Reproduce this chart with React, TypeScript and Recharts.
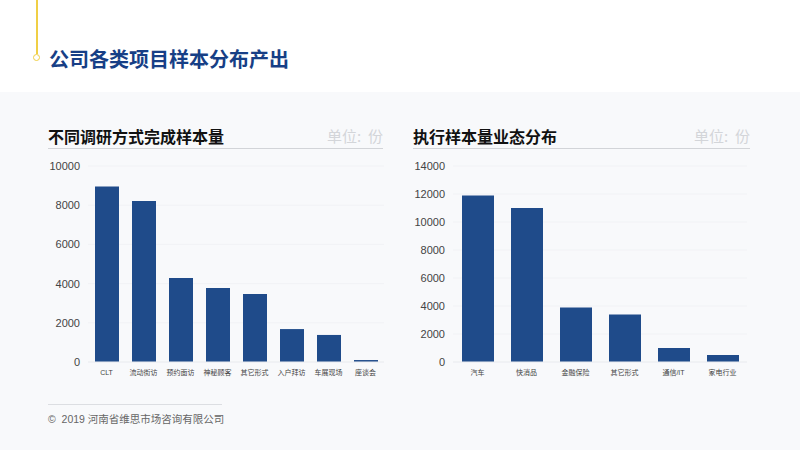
import { BarChart, Bar, XAxis, YAxis, CartesianGrid } from "recharts";

const methodNames = ["CLT", "流动街访", "预约面访", "神秘顾客", "其它形式", "入户拜访", "车展现场", "座谈会"];
const methodCounts = [8950, 8220, 4280, 3780, 3470, 1680, 1380, 100];
const methodTicks = [0, 2000, 4000, 6000, 8000, 10000];

const sectorNames = ["汽车", "快消品", "金融保险", "其它形式", "通信/IT", "家电行业"];
const sectorCounts = [11900, 11000, 3900, 3400, 1000, 500];
const sectorTicks = [0, 2000, 4000, 6000, 8000, 10000, 12000, 14000];

const methodData = methodNames.map((name, i) => ({ name, value: methodCounts[i] }));
const sectorData = sectorNames.map((name, i) => ({ name, value: sectorCounts[i] }));

const FONT = "'Noto Sans CJK SC', 'Noto Sans', sans-serif";
const NUM_FONT = "'Liberation Sans', 'Noto Sans CJK SC', sans-serif";
const BAR = "#1f4b8a";

function PanelHeader({ left, width, title }: { left: number; width: number; title: string }) {
  return (
    <div style={{ position: "absolute", left, top: 124, width, height: 24, borderBottom: "1px solid #d2d4d8" }}>
      <span style={{ position: "absolute", left: 0, top: 0, fontSize: 16, fontWeight: 700, color: "#111", lineHeight: "24px" }}>
        {title}
      </span>
      <span style={{ position: "absolute", right: 0, top: 0, fontSize: 15, color: "#d3d5d9", lineHeight: "24px" }}>
        单位:&nbsp;&nbsp;份
      </span>
    </div>
  );
}

function Chart({ left, data, ticks, max, barSize, right }: { left: number; data: { name: string; value: number }[]; ticks: number[]; max: number; barSize: number; right: number }) {
  return (
    <div style={{ position: "absolute", left, top: 150 }}>
      <BarChart width={360} height={230} data={data} margin={{ top: 16, right, left: 0, bottom: 0 }}>
        <CartesianGrid stroke="#f1f2f5" vertical={false} />
        <XAxis
          dataKey="name"
          height={18}
          axisLine={{ stroke: "#eceef1" }}
          tickLine={false}
          interval={0}
          tick={{ fontSize: 7, fill: "#444", fontFamily: NUM_FONT }}
        />
        <YAxis
          width={58}
          domain={[0, max]}
          ticks={ticks}
          axisLine={false}
          tickLine={false}
          tick={{ fontSize: 11, fill: "#444", fontFamily: NUM_FONT }}
        />
        <Bar dataKey="value" fill={BAR} barSize={barSize} isAnimationActive={false} />
      </BarChart>
    </div>
  );
}

export default function App() {
  return (
    <div style={{ position: "absolute", left: 0, top: 0, width: 800, height: 450, background: "#fff", fontFamily: FONT, overflow: "hidden" }}>
      <div style={{ position: "absolute", left: 36, top: 0, width: 1.5, height: 54, background: "#f0cf45" }} />
      <div style={{ position: "absolute", left: 33, top: 54, width: 5, height: 5, borderRadius: "50%", border: "1px solid #f0cf45", background: "#fff" }} />
      <div style={{ position: "absolute", left: 49, top: 45, fontSize: 20, fontWeight: 700, color: "#173f86", lineHeight: "28px" }}>
        公司各类项目样本分布产出
      </div>

      <div style={{ position: "absolute", left: 0, top: 92, width: 800, height: 358, background: "#f8f9fb" }} />

      <PanelHeader left={48} width={335} title="不同调研方式完成样本量" />
      <PanelHeader left={413} width={337} title="执行样本量业态分布" />

      <Chart left={30} data={methodData} ticks={methodTicks} max={10000} barSize={24} right={6} />
      <Chart left={395} data={sectorData} ticks={sectorTicks} max={14000} barSize={32} right={8} />

      <div style={{ position: "absolute", left: 48, top: 404, width: 174, height: 1, background: "#dcdee2" }} />
      <div style={{ position: "absolute", left: 48, top: 410, fontSize: 10.5, color: "#666", lineHeight: "18px", fontFamily: NUM_FONT }}>
        ©&nbsp;&nbsp;2019 河南省维思市场咨询有限公司
      </div>
    </div>
  );
}
